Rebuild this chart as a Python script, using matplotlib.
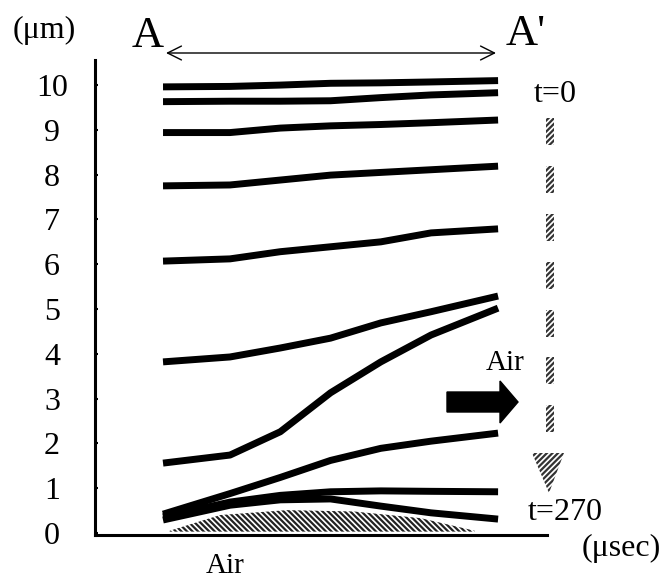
import matplotlib
matplotlib.use("Agg")
import matplotlib.pyplot as plt
from matplotlib.patches import Rectangle, Polygon, FancyArrow

plt.rcParams['font.family'] = ['Liberation Serif', 'DejaVu Serif']
plt.rcParams['hatch.linewidth'] = 1.6

# position along A-A' (0 = A, 1 = A')
pos = [0, 0.2, 0.35, 0.5, 0.65, 0.8, 1.0]

# surface height (um) at each recorded time, top = t=0
profiles = [
    [9.96, 9.97, 10.00, 10.04, 10.05, 10.07, 10.10],
    [9.63, 9.64, 9.64, 9.65, 9.72, 9.78, 9.83],
    [8.94, 8.94, 9.04, 9.09, 9.12, 9.16, 9.22],
    [7.75, 7.77, 7.88, 7.99, 8.05, 8.11, 8.19],
    [6.07, 6.12, 6.28, 6.39, 6.50, 6.70, 6.79],
    [3.82, 3.93, 4.13, 4.35, 4.69, 4.94, 5.29],
    [1.56, 1.74, 2.26, 3.13, 3.82, 4.42, 5.02],
    [0.42, 0.88, 1.24, 1.62, 1.89, 2.05, 2.23],
    [0.36, 0.69, 0.84, 0.92, 0.94, 0.93, 0.92],
    [0.29, 0.62, 0.74, 0.76, 0.60, 0.45, 0.31],
]

# air pocket (hatched)
air_pos = [0.02, 0.17, 0.37, 0.57, 0.77, 0.93]
air_top = [0.05, 0.40, 0.51, 0.48, 0.33, 0.05]
air_bottom = 0.03

yticks = list(range(11))

W, H = 668, 582
fig = plt.figure(figsize=(W / 100, H / 100), dpi=100)
ax = fig.add_axes([95 / W, 1 - 535 / H, (547 - 95) / W, (535 - 60) / H])

for prof in profiles:
    ax.plot(pos, prof, color='black', lw=5, solid_capstyle='butt',
            solid_joinstyle='round')

ax.fill_between(air_pos, air_bottom, air_top, facecolor='white',
                edgecolor='#222222', hatch='\\\\\\\\\\\\', linewidth=0)

ax.set_xlim(-0.203, 1.146)
ax.set_ylim(-0.045, 10.56)
ax.set_xticks([])
ax.set_yticks(yticks)
ax.set_yticklabels([str(v) for v in yticks], ha='center')
ax.tick_params(axis='y', direction='in', length=2, width=1.5,
               labelsize=23, pad=31)
for s in ['top', 'right']:
    ax.spines[s].set_visible(False)
for s in ['left', 'bottom']:
    ax.spines[s].set_linewidth(2.2)


def fx(px):
    return px / W


def fy(py):
    return 1 - py / H


tf = fig.transFigure
fig.text(fx(44), fy(30), '(μm)', fontsize=23, ha='center', va='center')
fig.text(fx(148), fy(36), 'A', fontsize=32, ha='center', va='center')
fig.text(fx(526), fy(34), "A'", fontsize=32, ha='center', va='center')
fig.text(fx(555), fy(94), 't=0', fontsize=23, ha='center', va='center')
fig.text(fx(565), fy(513), 't=270', fontsize=23, ha='center', va='center')
fig.text(fx(621), fy(548), '(μsec)', fontsize=23, ha='center', va='center')
fig.text(fx(505), fy(363), 'Air', fontsize=21, ha='center', va='center')
fig.text(fx(225), fy(566), 'Air', fontsize=21, ha='center', va='center')

# A <-> A'
ax.annotate('', xy=(fx(496), fy(53)), xytext=(fx(166), fy(53)),
            xycoords=tf, textcoords=tf,
            arrowprops=dict(arrowstyle='<->', lw=1, color='black',
                            mutation_scale=25, shrinkA=0, shrinkB=0))

# time arrow: hatched dashes and head
for top in [118, 166, 214, 262, 310, 357, 405]:
    fig.patches.append(Rectangle((fx(546), fy(top + 27)), 8 / W, 27 / H,
                                 transform=tf, facecolor='white',
                                 edgecolor='#333333', hatch='//////',
                                 linewidth=0))
fig.patches.append(Polygon([(fx(532), fy(453)), (fx(564), fy(453)),
                            (fx(549), fy(493))], closed=True, transform=tf,
                           facecolor='white', edgecolor='#333333',
                           hatch='//////', linewidth=0))

# air flow arrow
fig.patches.append(FancyArrow(fx(447), fy(402), (518 - 447) / W, 0,
                              width=20 / H, head_width=42 / H,
                              head_length=18 / W, length_includes_head=True,
                              transform=tf, color='black'))

fig.savefig('out.png', dpi=100)
